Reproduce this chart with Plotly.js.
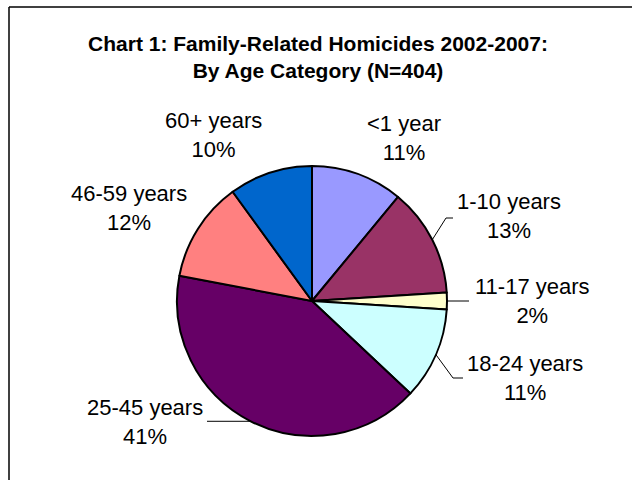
<!DOCTYPE html>
<html>
<head>
<meta charset="utf-8">
<script src="https://cdn.plot.ly/plotly-3.0.1.min.js"></script>
<style>
  html, body { margin: 0; padding: 0; background: #ffffff; }
  #chart { width: 632px; height: 480px; }
</style>
</head>
<body>
<div id="chart"></div>
<script>
// ---- data ----
const categories = ["<1 year", "1-10 years", "11-17 years", "18-24 years", "25-45 years", "46-59 years", "60+ years"];
const percents   = [11, 13, 2, 11, 41, 12, 10];
const colors     = ["#9999FF", "#993366", "#FFFFCC", "#CCFFFF", "#660066", "#FF8080", "#0066CC"];
const titleText  = "<b>Chart 1: Family-Related Homicides 2002-2007:<br>By Age Category (N=404)</b>";

// ---- layout (pixels) ----
const W = 632, H = 480;
const cx = 312, cy = 301, R = 135;
// label block centers (px)
const labelPos = [[404, 138], [509, 216], [532, 301], [525, 378], [145, 422], [129, 208], [213, 135]];
// leader lines: for some slices, elbow/end points (px); null = no leader
const leaders = [null, [[446, 218], [453, 218]], [[469, null]], [[453, 378], [463, 378]], [[207, null]], null, null];

const px = x => x / W;
const py = y => 1 - y / H;

const total = percents.reduce((a, b) => a + b, 0);
let cum = 0;
const midAngles = percents.map(v => { const m = (cum + v / 2) / total * 360; cum += v; return m; });

const annotations = categories.map((c, i) => ({
  x: px(labelPos[i][0]), y: py(labelPos[i][1]), xref: 'paper', yref: 'paper',
  xanchor: 'center', yanchor: 'middle', align: 'center', showarrow: false,
  text: c + '<br>' + percents[i] + '%',
  font: {family: 'Liberation Sans, Arial, sans-serif', size: 22, color: '#000000'}
}));

const shapes = [
  {type: 'line', xref: 'paper', yref: 'paper', x0: px(9), x1: px(9), y0: -0.05, y1: py(7), line: {color: '#000000', width: 1.5}},
  {type: 'line', xref: 'paper', yref: 'paper', x0: px(9), x1: 1.05, y0: py(7), y1: py(7), line: {color: '#000000', width: 1.5}}
];
leaders.forEach((pts, i) => {
  if (!pts) return;
  const a = midAngles[i] * Math.PI / 180;
  let sx = cx + R * Math.sin(a), sy = cy - R * Math.cos(a);
  pts.forEach(p => {
    const ex = p[0], ey = (p[1] === null ? sy : p[1]);
    shapes.push({type: 'line', xref: 'paper', yref: 'paper', x0: px(sx), y0: py(sy), x1: px(ex), y1: py(ey), line: {color: '#000000', width: 1}});
    sx = ex; sy = ey;
  });
});

const trace = {
  type: 'pie',
  labels: categories,
  values: percents,
  sort: false,
  direction: 'clockwise',
  rotation: 0,
  textinfo: 'none',
  hoverinfo: 'none',
  marker: {colors: colors, line: {color: '#000000', width: 2}},
  domain: {x: [px(cx - R), px(cx + R)], y: [py(cy + R), py(cy - R)]}
};

const layout = {
  width: W, height: H,
  margin: {l: 0, r: 0, t: 0, b: 0},
  paper_bgcolor: '#ffffff',
  showlegend: false,
  title: {text: titleText, x: px(318), xanchor: 'center', y: py(51), yanchor: 'middle',
          font: {family: 'Liberation Sans, Arial, sans-serif', size: 21, color: '#000000'}},
  annotations: annotations,
  shapes: shapes
};

Plotly.newPlot('chart', [trace], layout, {displayModeBar: false, staticPlot: true});
</script>
</body>
</html>
